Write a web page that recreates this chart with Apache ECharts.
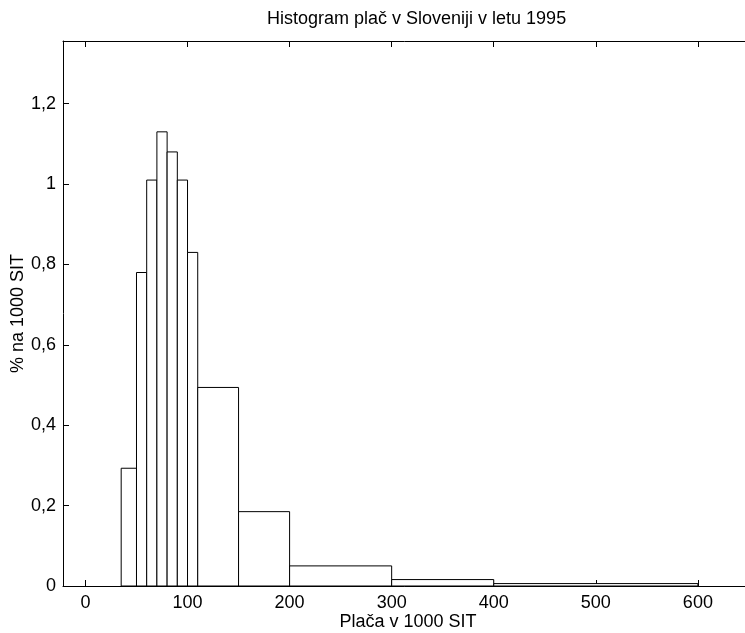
<!DOCTYPE html>
<html>
<head>
<meta charset="utf-8">
<script src="https://cdn.jsdelivr.net/npm/echarts@6/dist/echarts.min.js"></script>
<style>html,body{margin:0;padding:0;background:#fff;}#c{width:745px;height:633px;}</style>
</head>
<body>
<div id="c"></div>
<script>
// Bin edges (thousand SIT) and heights (% per 1000 SIT)
var binStart = [35, 50, 60, 70, 80, 90, 100, 110, 150, 200, 300, 400];
var binEnd   = [50, 60, 70, 80, 90, 100, 110, 150, 200, 300, 400, 600];
var heights  = [0.293, 0.78, 1.01, 1.13, 1.08, 1.01, 0.83, 0.494, 0.185, 0.05, 0.016, 0.006];
var xTicks = [0, 100, 200, 300, 400, 500, 600];
var yTicks = [0, 0.2, 0.4, 0.6, 0.8, 1, 1.2];

var data = binStart.map(function (s, i) { return [s, binEnd[i], heights[i]]; });
var FONT = 'Liberation Sans';
var FS = 18;
var chart = echarts.init(document.getElementById('c'), null, {renderer: 'canvas'});
function fmt(v) { return String(Math.round(v * 10) / 10).replace('.', ','); }
chart.setOption({
  animation: false,
  backgroundColor: '#fff',
  title: {
    text: 'Histogram plač v Sloveniji v letu 1995',
    left: 262, top: 5,
    textStyle: {fontFamily: FONT, fontSize: FS, fontWeight: 'normal', color: '#000'}
  },
  grid: {left: 63, top: 41, width: 690, height: 545, containLabel: false, outerBoundsMode: 'none'},
  xAxis: [{
    type: 'value', min: -22, max: 654, position: 'bottom',
    name: 'Plača v 1000 SIT', nameLocation: 'middle', nameGap: 27, nameMoveOverlap: false,
    nameTextStyle: {fontFamily: FONT, fontSize: FS, color: '#000'},
    axisLine: {show: true, onZero: false, lineStyle: {color: '#000', width: 1}},
    axisTick: {show: true, inside: true, length: 6, customValues: xTicks, lineStyle: {color: '#000'}},
    axisLabel: {customValues: xTicks, fontFamily: FONT, fontSize: FS, color: '#000', margin: 8},
    splitLine: {show: false}
  }, {
    type: 'value', min: -22, max: 654, position: 'top',
    axisLine: {show: true, onZero: false, lineStyle: {color: '#000', width: 1}},
    axisTick: {show: true, inside: true, length: 6, customValues: xTicks, lineStyle: {color: '#000'}},
    axisLabel: {show: false},
    splitLine: {show: false}
  }],
  yAxis: [{
    type: 'value', min: 0, max: 1.356, position: 'left',
    name: '% na 1000 SIT', nameLocation: 'middle', nameGap: 36, nameRotate: 90, nameMoveOverlap: false,
    nameTextStyle: {fontFamily: FONT, fontSize: FS, color: '#000'},
    axisLine: {show: true, onZero: false, lineStyle: {color: '#000', width: 1}},
    axisTick: {show: true, inside: true, length: 6, customValues: yTicks, lineStyle: {color: '#000'}},
    axisLabel: {customValues: yTicks, fontFamily: FONT, fontSize: FS, color: '#000', margin: 7, formatter: fmt},
    splitLine: {show: false}
  }],
  series: [{
    type: 'custom',
    xAxisIndex: 0, yAxisIndex: 0,
    data: data,
    encode: {x: [0, 1], y: 2},
    renderItem: function (params, api) {
      var p0 = api.coord([api.value(0), 0]);
      var p1 = api.coord([api.value(1), api.value(2)]);
      return {
        type: 'rect',
        shape: {x: p0[0], y: p1[1], width: p1[0] - p0[0], height: p0[1] - p1[1]},
        style: {fill: '#fff', stroke: '#000', lineWidth: 1}
      };
    }
  }]
});
</script>
</body>
</html>
